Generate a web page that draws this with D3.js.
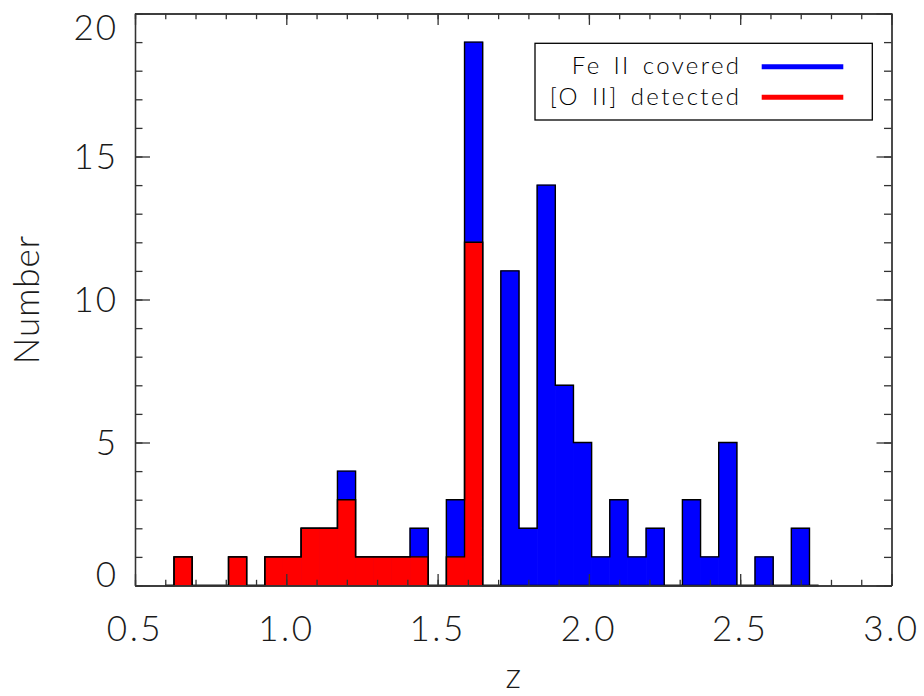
<!DOCTYPE html>
<html>
<head>
<meta charset="utf-8">
<script src="https://cdn.jsdelivr.net/npm/d3@7"></script>
<style>
  body { margin: 0; background: #fff; }
  svg text { font-family: 'Lato', 'DejaVu Sans', sans-serif; font-weight: 300; fill: #1a1a1a; }
</style>
</head>
<body>
<svg id="chart" width="924" height="696"></svg>
<script>
// histogram bins: left edge of first bin and bin width in z
var binStart = 0.629;
var binWidth = 0.06;

// counts per bin, Fe II covered (all) and [O II] detected
var feCounts  = [1, 0, 0, 1, 0, 1, 1, 2, 2, 4, 1, 1, 1, 2, 0, 3, 19, 0, 11, 2, 14, 7, 5, 1, 3, 1, 2, 0, 3, 1, 5, 0, 1, 0, 2];
var oiiCounts = [1, 0, 0, 1, 0, 1, 1, 2, 2, 3, 1, 1, 1, 1, 0, 1, 12, 0, 0, 0, 0, 0, 0, 0, 0, 0, 0, 0, 0, 0, 0, 0, 0, 0, 0];

var xTicks = [0.5, 1.0, 1.5, 2.0, 2.5, 3.0];
var xTickLabels = ['0.5', '1.0', '1.5', '2.0', '2.5', '3.0'];
var yTicks = [0, 5, 10, 15, 20];
var yTickLabels = ['0', '5', '10', '15', '20'];

var legendLabels = ['Fe II covered', '[O II] detected'];
var legendColors = ['#0000ff', '#ff0000'];

(function () {
  var svg = d3.select('#chart');
  var plotLeft = 135, plotRight = 891.5, plotTop = 13.5, plotBottom = 585.5;

  var x = d3.scaleLinear().domain([0.5, 3.0]).range([plotLeft, plotRight]);
  var y = d3.scaleLinear().domain([0, 20]).range([plotBottom, plotTop]);

  var axisColor = '#333';

  var edgeOf = function (k) { return binStart + k * binWidth; };

  // filled bars; thin stroke in same colour hides seams between bins
  var drawFill = function (counts, color) {
    svg.append('g').selectAll('rect')
      .data(counts.map(function (c, k) { return {k: k, c: c}; }).filter(function (d) { return d.c > 0; }))
      .enter().append('rect')
      .attr('x', function (d) { return x(edgeOf(d.k)); })
      .attr('width', function (d) { return x(edgeOf(d.k + 1)) - x(edgeOf(d.k)); })
      .attr('y', function (d) { return y(d.c); })
      .attr('height', function (d) { return y(0) - y(d.c); })
      .attr('fill', color)
      .attr('stroke', color)
      .attr('stroke-width', 0.8);
  };

  // step outline like IDL psym=10
  var drawOutline = function (counts) {
    var pts = [[binStart - binWidth / 2, 0]];
    counts.forEach(function (c, k) { pts.push([edgeOf(k), c]); });
    pts.push([edgeOf(counts.length), 0]);
    pts.push([edgeOf(counts.length) + binWidth / 2, 0]);

    var line = d3.line()
      .x(function (p) { return x(p[0]); })
      .y(function (p) { return y(p[1]); })
      .curve(d3.curveStepAfter);

    svg.append('path')
      .attr('d', line(pts))
      .attr('fill', 'none')
      .attr('stroke', '#000')
      .attr('stroke-width', 1.4);
  };

  drawFill(feCounts, legendColors[0]);
  drawFill(oiiCounts, legendColors[1]);
  drawOutline(feCounts);
  drawOutline(oiiCounts);

  // axes, ticks pointing inwards on all four sides
  var xMinor = d3.range(5, 31).map(function (i) { return i / 10; });
  var yMinor = d3.range(0, 21);

  var addAxis = function (axisFn, scale, ticks, size, transform) {
    var g = svg.append('g')
      .attr('transform', transform)
      .call(axisFn(scale).tickValues(ticks).tickSize(size).tickFormat('').tickSizeOuter(0));
    g.selectAll('path, line').attr('stroke', axisColor).attr('stroke-width', 1.3);
    return g;
  };

  addAxis(d3.axisBottom, x, xMinor, -5.7, 'translate(0,' + plotBottom + ')');
  addAxis(d3.axisBottom, x, xTicks, -11.4, 'translate(0,' + plotBottom + ')');
  addAxis(d3.axisTop, x, xMinor, -5.7, 'translate(0,' + plotTop + ')');
  addAxis(d3.axisTop, x, xTicks, -11.4, 'translate(0,' + plotTop + ')');
  addAxis(d3.axisLeft, y, yMinor, -7.5, 'translate(' + plotLeft + ',0)');
  addAxis(d3.axisLeft, y, yTicks, -15, 'translate(' + plotLeft + ',0)');
  addAxis(d3.axisRight, y, yMinor, -7.5, 'translate(' + plotRight + ',0)');
  addAxis(d3.axisRight, y, yTicks, -15, 'translate(' + plotRight + ',0)');

  // tick labels
  svg.append('g').selectAll('text')
    .data(xTicks)
    .enter().append('text')
    .attr('x', function (d) { return x(d); })
    .attr('y', 641)
    .attr('text-anchor', 'middle')
    .attr('font-size', 35)
    .attr('letter-spacing', 2.5)
    .text(function (d, i) { return xTickLabels[i]; });

  svg.append('g').selectAll('text')
    .data(yTicks)
    .enter().append('text')
    .attr('x', 118)
    .attr('y', function (d) { return Math.max(39.5, Math.min(587, y(d) + 12.7)); })
    .attr('text-anchor', 'end')
    .attr('font-size', 35)
    .attr('letter-spacing', 2)
    .text(function (d, i) { return yTickLabels[i]; });

  // axis titles
  svg.append('text')
    .attr('x', (plotLeft + plotRight) / 2)
    .attr('y', 688)
    .attr('text-anchor', 'middle')
    .attr('font-size', 35)
    .text('z');

  svg.append('text')
    .attr('transform', 'translate(39,' + (plotTop + plotBottom) / 2 + ') rotate(-90)')
    .attr('text-anchor', 'middle')
    .attr('font-size', 35)
    .attr('letter-spacing', 1)
    .text('Number');

  // legend
  var legend = svg.append('g');
  legend.append('rect')
    .attr('x', 535).attr('y', 43.3)
    .attr('width', 337.3).attr('height', 76.7)
    .attr('fill', '#fff')
    .attr('stroke', '#000')
    .attr('stroke-width', 1.3);

  legendLabels.forEach(function (label, i) {
    legend.append('text')
      .attr('x', 741.5)
      .attr('y', 74 + i * 31)
      .attr('text-anchor', 'end')
      .attr('font-size', 24)
      .attr('letter-spacing', 2.4)
      .attr('word-spacing', 3)
      .style('fill', '#000')
      .text(label);
    legend.append('line')
      .attr('x1', 761.7).attr('x2', 843.3)
      .attr('y1', 66.7 + i * 30.6).attr('y2', 66.7 + i * 30.6)
      .attr('stroke', legendColors[i])
      .attr('stroke-width', 5);
  });
}());
</script>
</body>
</html>
